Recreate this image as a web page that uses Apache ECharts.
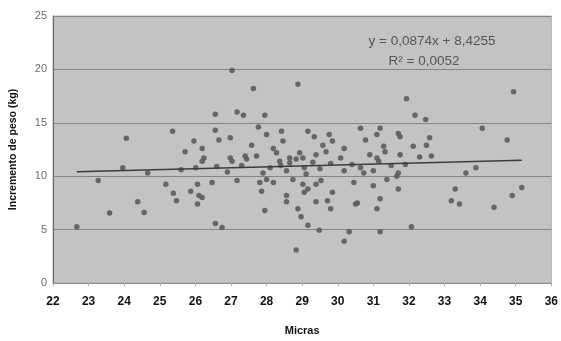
<!DOCTYPE html>
<html><head><meta charset="utf-8">
<script src="https://cdn.jsdelivr.net/npm/echarts@6/dist/echarts.min.js"></script>
<style>html,body{margin:0;padding:0;background:#fff}#c{width:561px;height:341px}</style>
</head><body><div id="c"></div>
<script>
const xTicks = [22,23,24,25,26,27,28,29,30,31,32,33,34,35,36];
const yTicks = [0,5,10,15,20,25];
const micras = [22.67,23.27,23.59,24.06,23.96,24.38,24.56,24.66,25.17,25.36,25.38,25.47,25.71,25.87,25.96,26.01,26.06,26.1,26.19,26.06,26.19,26.24,26.19,26.47,26.56,26.56,26.66,26.56,26.75,26.98,27.03,27.17,27.35,26.98,27.03,27.17,27.4,27.44,27.58,27.63,27.72,27.77,27.81,27.86,27.95,27.95,28.0,28.0,28.19,28.19,28.28,28.37,28.42,28.46,28.56,28.56,28.56,28.65,28.65,28.74,28.83,28.83,28.88,28.88,28.93,28.97,29.02,29.02,29.06,29.06,29.11,29.16,29.16,29.16,29.34,29.39,29.39,29.39,29.48,29.53,29.58,29.67,29.71,29.76,29.8,29.85,29.85,30.08,30.18,30.18,30.18,30.32,30.45,30.5,30.55,30.64,30.64,30.73,30.78,31.0,31.1,31.1,31.1,31.15,31.19,31.19,31.19,31.29,31.33,31.38,31.66,31.7,31.7,31.7,31.75,31.75,31.93,32.07,32.12,32.17,32.47,32.49,32.58,32.63,33.19,33.3,33.42,33.6,33.88,34.06,34.39,34.76,34.9,34.94,35.17,26.6,27.3,27.9,28.4,29.5,29.8,30.4,31.0,31.5,31.9,32.3,26.9,28.1,25.6,29.3,30.9];
const incremento = [5.26,9.6,6.55,13.56,10.8,7.6,6.6,10.3,9.25,14.2,8.4,7.7,12.3,8.6,13.3,10.8,9.25,8.2,8.0,7.4,12.6,11.7,11.4,9.4,15.8,14.3,13.4,5.56,5.2,13.6,19.9,16.0,15.7,11.7,11.4,9.6,11.9,11.6,12.9,18.2,11.9,14.6,9.4,8.6,15.7,6.8,13.9,9.7,12.6,9.4,12.2,11.4,14.2,13.3,10.5,8.2,7.6,11.7,11.25,9.7,11.6,3.1,18.6,6.95,12.2,6.2,9.25,11.7,10.8,8.5,10.2,8.8,14.2,5.4,13.7,12.0,9.25,7.6,4.95,9.6,12.9,12.3,7.7,13.9,6.95,13.3,8.5,11.7,12.6,10.5,3.9,4.8,9.4,7.4,7.5,14.5,10.8,10.3,13.4,9.1,13.9,11.7,6.95,11.4,14.5,7.9,4.8,12.8,12.3,9.7,10.0,14.0,10.3,8.8,13.7,12.0,17.25,5.26,12.8,15.7,15.3,12.9,13.6,11.9,7.7,8.8,7.4,10.3,10.8,14.5,7.1,13.4,8.2,17.9,8.95,10.9,11.0,10.3,11.0,10.7,11.2,11.1,10.5,11.0,11.1,11.8,10.4,10.8,10.6,11.3,12.0];
const trendX = [22.67, 35.17];
const trendY = [10.41, 11.50];
const eqText = 'y = 0,0874x + 8,4255';
const r2Text = 'R² = 0,0052';

const pts = micras.map((x,i)=>[x, incremento[i]]);
const chart = echarts.init(document.getElementById('c'), null, {renderer:'canvas'});
chart.setOption({
  animation:false,
  backgroundColor:'#fff',
  grid:{left:48,right:8,top:16,bottom:54,show:true,backgroundColor:'#c3c3c3',borderColor:'#b0b0b0',borderWidth:1},
  xAxis:{type:'value',min:22,max:36,interval:1,
    name:'Micras',nameLocation:'middle',nameGap:42,
    nameTextStyle:{fontFamily:'Liberation Sans',fontWeight:'bold',fontSize:11,color:'#111'},
    axisLine:{show:true,lineStyle:{color:'#8a8a8a'}},
    axisTick:{show:true,length:3,lineStyle:{color:'#aaa'}},
    axisLabel:{margin:13,fontFamily:'Liberation Sans',fontWeight:'bold',fontSize:12,color:'#111'},
    splitLine:{show:false}},
  yAxis:{type:'value',min:0,max:25,interval:5,
    name:'Incremento de peso (kg)',nameLocation:'middle',nameGap:34,
    nameTextStyle:{fontFamily:'Liberation Sans Narrow, Liberation Sans',fontWeight:'bold',fontSize:10.5,color:'#111'},
    axisLine:{show:true,lineStyle:{color:'#666'}},
    axisTick:{show:false},
    axisLabel:{margin:6,fontFamily:'Liberation Sans',fontSize:11,color:'#6a6a6a'},
    splitLine:{show:true,lineStyle:{color:'#858585',width:1}}},
  series:[
    {type:'scatter',data:pts,symbol:'circle',symbolSize:5.5,itemStyle:{color:'#5c5c5c',opacity:0.9},z:3},
    {type:'line',data:trendX.map((x,i)=>[x,trendY[i]]),symbol:'none',lineStyle:{color:'#3c3c3c',width:1.5},z:4,silent:true}
  ],
  graphic:[
    {type:'text',x:432,y:41,style:{text:eqText,fill:'#555',font:'13.5px Liberation Sans',textAlign:'center',textVerticalAlign:'middle'}},
    {type:'text',x:424,y:61,style:{text:r2Text,fill:'#555',font:'13.5px Liberation Sans',textAlign:'center',textVerticalAlign:'middle'}}
  ]
});
</script></body></html>
